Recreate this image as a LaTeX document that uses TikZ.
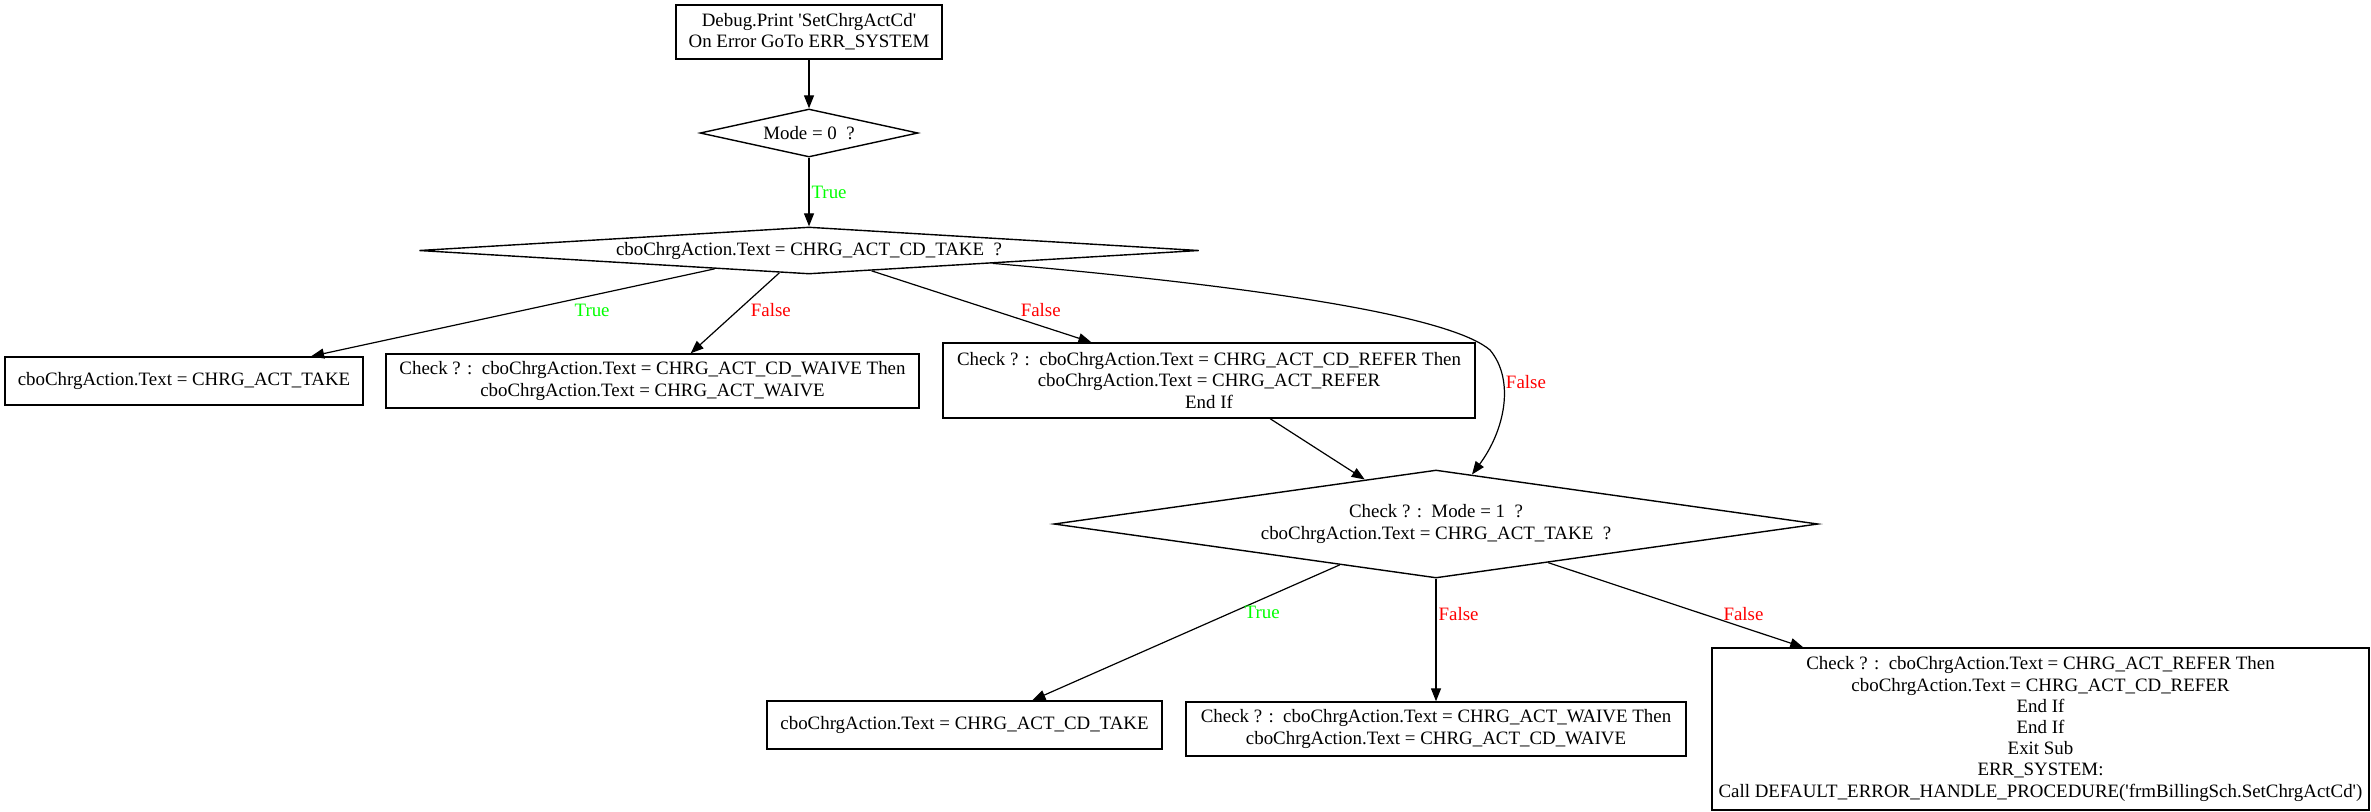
\documentclass[tikz,border=0pt]{standalone}
\usepackage{fontspec}
\setmainfont{Liberation Serif}[Ligatures=TeXOff]
\usetikzlibrary{shapes.geometric, arrows.meta}
\definecolor{truegreen}{RGB}{0,255,0}
\definecolor{falsered}{RGB}{255,0,0}

\begin{document}
\begin{tikzpicture}[
x=0.5pt, y=-0.5pt, % 1 đơn vị = 1 pixel của ảnh gốc
every node/.style={font=\fontsize{9.45}{10.6}\selectfont},
proc/.style={draw, rectangle, line width=0.7pt, align=center, inner sep=0pt},
cond/.style={draw, diamond, line width=0.7pt, align=center, inner sep=0pt},
flow/.style={-{Triangle[length=6.5pt,width=5pt]}, line width=0.6pt},
truelbl/.style={text=truegreen, inner sep=1pt},
falselbl/.style={text=falsered, inner sep=1pt}
]
\useasboundingbox (0,0) rectangle (2371,811);

% --- Khối đầu ---
\node[proc, minimum width=133pt, minimum height=27pt] (start) at (809,32)
  {Debug.Print 'SetChrgActCd'\\On Error GoTo ERR\_SYSTEM};
\node[cond, shape aspect=4.54, minimum width=109pt, minimum height=24pt] (mode0) at (809,133) {Mode = 0\ \ ?};
\node[cond, shape aspect=16.6, minimum width=390pt, minimum height=23.5pt] (cdtake) at (809,250.5)
  {cboChrgAction.Text = CHRG\_ACT\_CD\_TAKE\ \ ?};

% --- Nhánh Mode = 0 ---
\node[proc, minimum width=179pt, minimum height=24pt] (acttake) at (184,381)
  {cboChrgAction.Text = CHRG\_ACT\_TAKE};
\node[proc, minimum width=266.5pt, minimum height=27pt] (cdwaive) at (652.5,381)
  {Check ? :\ \ cboChrgAction.Text = CHRG\_ACT\_CD\_WAIVE Then\\cboChrgAction.Text = CHRG\_ACT\_WAIVE};
\node[proc, minimum width=266pt, minimum height=37.5pt] (cdrefer) at (1209,380.5)
  {Check ? :\ \ cboChrgAction.Text = CHRG\_ACT\_CD\_REFER Then\\cboChrgAction.Text = CHRG\_ACT\_REFER\\End If};

% --- Nhánh Mode = 1 ---
\node[cond, shape aspect=7.07, minimum width=382pt, minimum height=54pt] (mode1) at (1436,524)
  {Check ? :\ \ Mode = 1\ \ ?\\cboChrgAction.Text = CHRG\_ACT\_TAKE\ \ ?};
\node[proc, minimum width=197.5pt, minimum height=24pt] (cdtakeset) at (964.5,725)
  {cboChrgAction.Text = CHRG\_ACT\_CD\_TAKE};
\node[proc, minimum width=250pt, minimum height=27pt] (actwaive) at (1436,729)
  {Check ? :\ \ cboChrgAction.Text = CHRG\_ACT\_WAIVE Then\\cboChrgAction.Text = CHRG\_ACT\_CD\_WAIVE};
\node[proc, minimum width=328.5pt, minimum height=81pt] (actrefer) at (2040.5,729)
  {Check ? :\ \ cboChrgAction.Text = CHRG\_ACT\_REFER Then\\cboChrgAction.Text = CHRG\_ACT\_CD\_REFER\\End If\\End If\\Exit Sub\\ERR\_SYSTEM:\\Call DEFAULT\_ERROR\_HANDLE\_PROCEDURE('frmBillingSch.SetChrgActCd')};

% Vẽ các cạnh
\draw[flow] (start.south) -- (mode0.north);
\draw[flow] (mode0.south) -- node[truelbl, pos=0.51, anchor=west] {True} (cdtake.north);
\draw[flow] (cdtake.191.6) -- node[truelbl, pos=0.477, xshift=35pt] {True} (acttake.11.5);
\draw[flow] (cdtake.217.8) -- node[falselbl, pos=0.457, xshift=16pt] {False} (cdwaive.36.5);
\draw[flow] (cdtake.342) -- node[falselbl, pos=0.542, xshift=25pt] {False} (cdrefer.162.5);
\draw[flow] (cdtake.356.2) .. controls (1300,290) and (1455,320) .. (1490,350)
  .. controls (1515,380) and (1505,430) .. node[falselbl, pos=0.3, anchor=west] {False} (mode1.54.8);
\draw[flow] (cdrefer.328.4) -- (mode1.148);

\draw[flow] (mode1.203.6) -- node[truelbl, pos=0.353, xshift=15.5pt] {True} (cdtakeset.20.4);
\draw[flow] (mode1.south) -- node[falselbl, pos=0.29, anchor=west] {False} (actwaive.north);
\draw[flow] (mode1.341.9) -- node[falselbl, pos=0.605, xshift=20.5pt] {False} (actrefer.161.7);

\end{tikzpicture}
\end{document}
